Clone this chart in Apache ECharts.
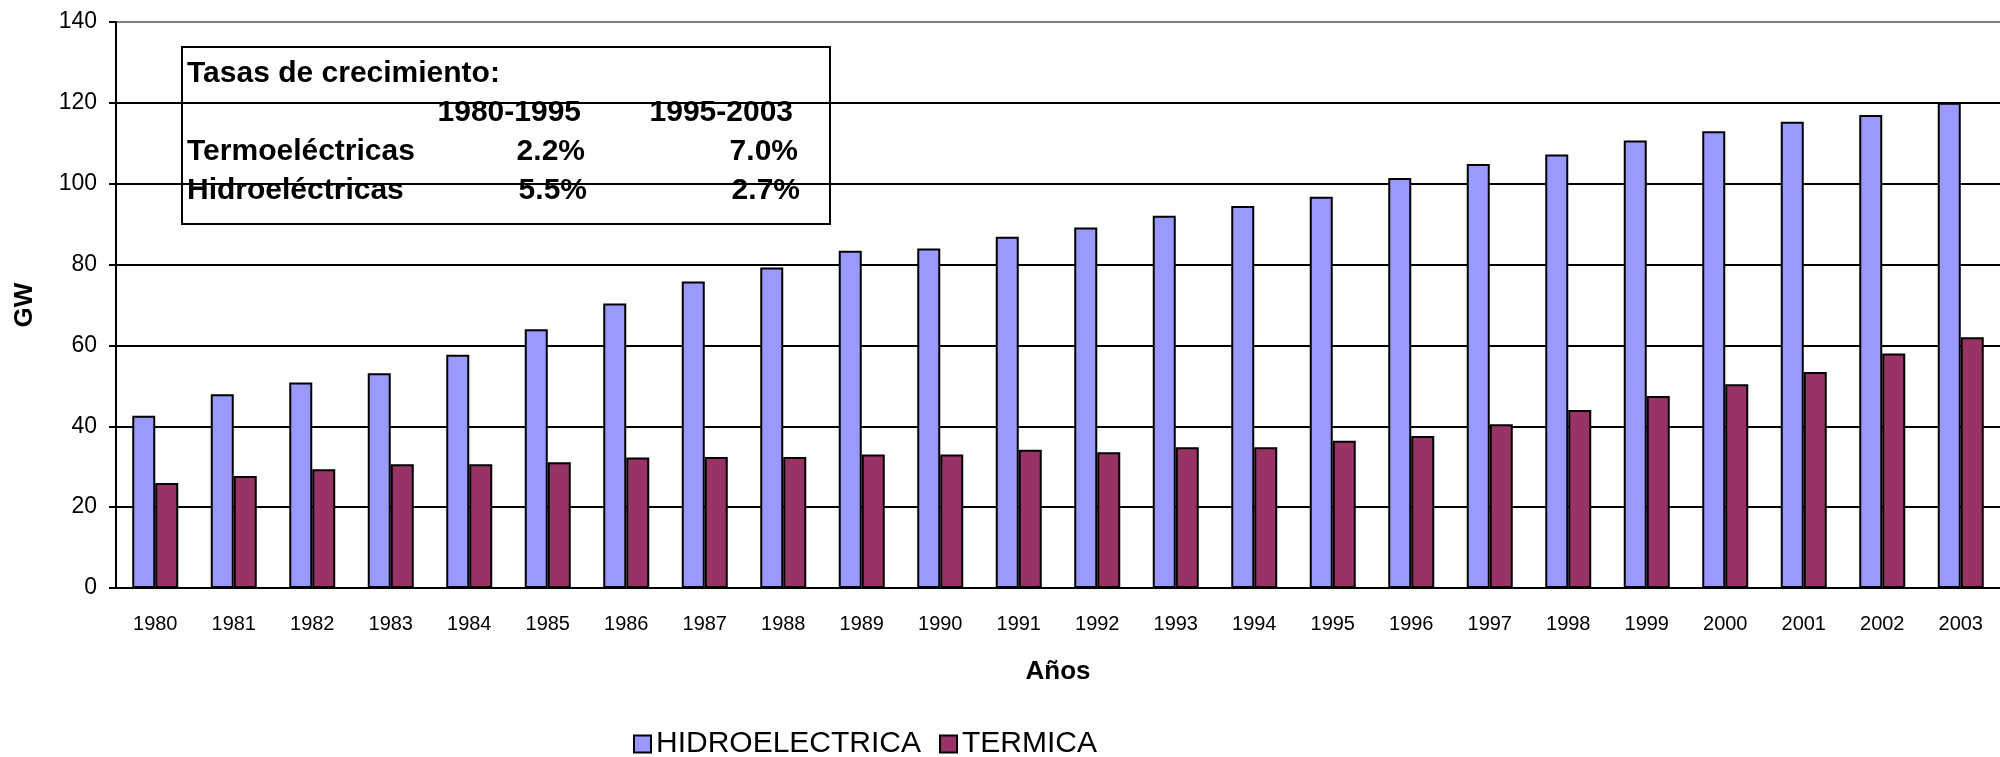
<!DOCTYPE html>
<html>
<head>
<meta charset="utf-8">
<script src="https://cdn.jsdelivr.net/npm/echarts@6/dist/echarts.min.js"></script>
<style>
    html, body { margin: 0; padding: 0; background: #fff; }
    #chart { width: 2000px; height: 757px; }
</style>
</head>
<body>
<div id="chart"></div>
<script>
// years on the x axis
const years = [
    '1980', '1981', '1982', '1983', '1984', '1985', '1986', '1987',
    '1988', '1989', '1990', '1991', '1992', '1993', '1994', '1995',
    '1996', '1997', '1998', '1999', '2000', '2001', '2002', '2003'
];

// installed capacity, GW
const hidroelectrica = [
    42.6, 47.9, 50.8, 53.1, 57.7, 64.0, 70.4, 75.8,
    79.3, 83.4, 84.0, 86.9, 89.2, 92.1, 94.5, 96.8,
    101.4, 104.9, 107.2, 110.7, 113.0, 115.3, 117.0, 120.0
];
const termica = [
    26.0, 27.7, 29.4, 30.6, 30.6, 31.1, 32.3, 32.4,
    32.4, 33.0, 33.0, 34.2, 33.6, 34.8, 34.8, 36.4,
    37.6, 40.5, 44.0, 47.5, 50.4, 53.4, 58.0, 62.0
];

// growth-rate note in the upper left
const noteTitle = 'Tasas de crecimiento:';
const notePeriods = ['1980-1995', '1995-2003'];
const noteRowNames = ['Termoeléctricas', 'Hidroeléctricas'];
const noteTermo = ['2.2%', '7.0%'];
const noteHidro = ['5.5%', '2.7%'];

const FONT = '"Liberation Sans", Arial, sans-serif';

const chart = echarts.init(document.getElementById('chart'));

function barSeries(name, color, data) {
    return {
        name,
        type: 'bar',
        data,
        barWidth: 23,
        barGap: '0%',
        itemStyle: {
            color,
            borderColor: '#000',
            borderWidth: 2
        }
    };
}

// text box: white rect + bold text, placed in pixels
function noteGraphic() {
    const txt = (text, x, y, align) => ({
        type: 'text',
        x, y,
        style: {
            text,
            font: `bold 30px ${FONT}`,
            fill: '#000',
            align: align || 'left',
            verticalAlign: 'middle'
        }
    });
    const rows = [113, 152, 191];
    return {
        type: 'group',
        z: 100,
        children: [
            {
                type: 'rect',
                shape: { x: 182, y: 47, width: 648, height: 177 },
                style: { fill: '#fff', stroke: '#000', lineWidth: 2 }
            },
            txt(noteTitle, 187, 74),
            txt(notePeriods[0], 581, rows[0], 'right'),
            txt(notePeriods[1], 793, rows[0], 'right'),
            txt(noteRowNames[0], 187, rows[1]),
            txt(noteTermo[0], 585, rows[1], 'right'),
            txt(noteTermo[1], 798, rows[1], 'right'),
            txt(noteRowNames[1], 187, rows[2]),
            txt(noteHidro[0], 587, rows[2], 'right'),
            txt(noteHidro[1], 800, rows[2], 'right')
        ]
    };
}

const options = {
    animation: false,
    backgroundColor: '#fff',
    textStyle: { fontFamily: FONT },
    grid: {
        left: 116,
        top: 22,
        width: 1896,
        height: 566
    },
    legend: {
        left: 628,
        top: 724,
        icon: 'rect',
        itemWidth: 17,
        itemHeight: 17,
        itemGap: 18,
        textStyle: { fontSize: 30, color: '#000', fontFamily: FONT }
    },
    xAxis: {
        type: 'category',
        data: years,
        name: 'Años',
        nameLocation: 'middle',
        nameGap: 71,
        nameTextStyle: { fontSize: 26, fontWeight: 'bold', color: '#000' },
        axisLine: { lineStyle: { color: '#000', width: 2 } },
        axisTick: { length: 6, lineStyle: { color: '#000', width: 2 } },
        axisLabel: { fontSize: 20, color: '#000', margin: 26 },
        splitLine: { show: false }
    },
    yAxis: {
        type: 'value',
        min: 0,
        max: 140,
        interval: 20,
        name: 'GW',
        nameLocation: 'middle',
        nameGap: 78,
        nameTextStyle: { fontSize: 26, fontWeight: 'bold', color: '#000' },
        axisLine: { show: true, lineStyle: { color: '#000', width: 2 } },
        axisTick: { show: true, length: 7, lineStyle: { color: '#000', width: 2 } },
        axisLabel: { fontSize: 23, color: '#000', margin: 19 },
        splitLine: {
            show: true,
            lineStyle: {
                width: 2,
                color: ['#000', '#000', '#000', '#000', '#000', '#000', '#000', '#808080']
            }
        }
    },
    series: [
        barSeries('HIDROELECTRICA', '#9999FF', hidroelectrica),
        barSeries('TERMICA', '#993366', termica)
    ],
    graphic: [noteGraphic()]
};

chart.setOption(options);
</script>
</body>
</html>
